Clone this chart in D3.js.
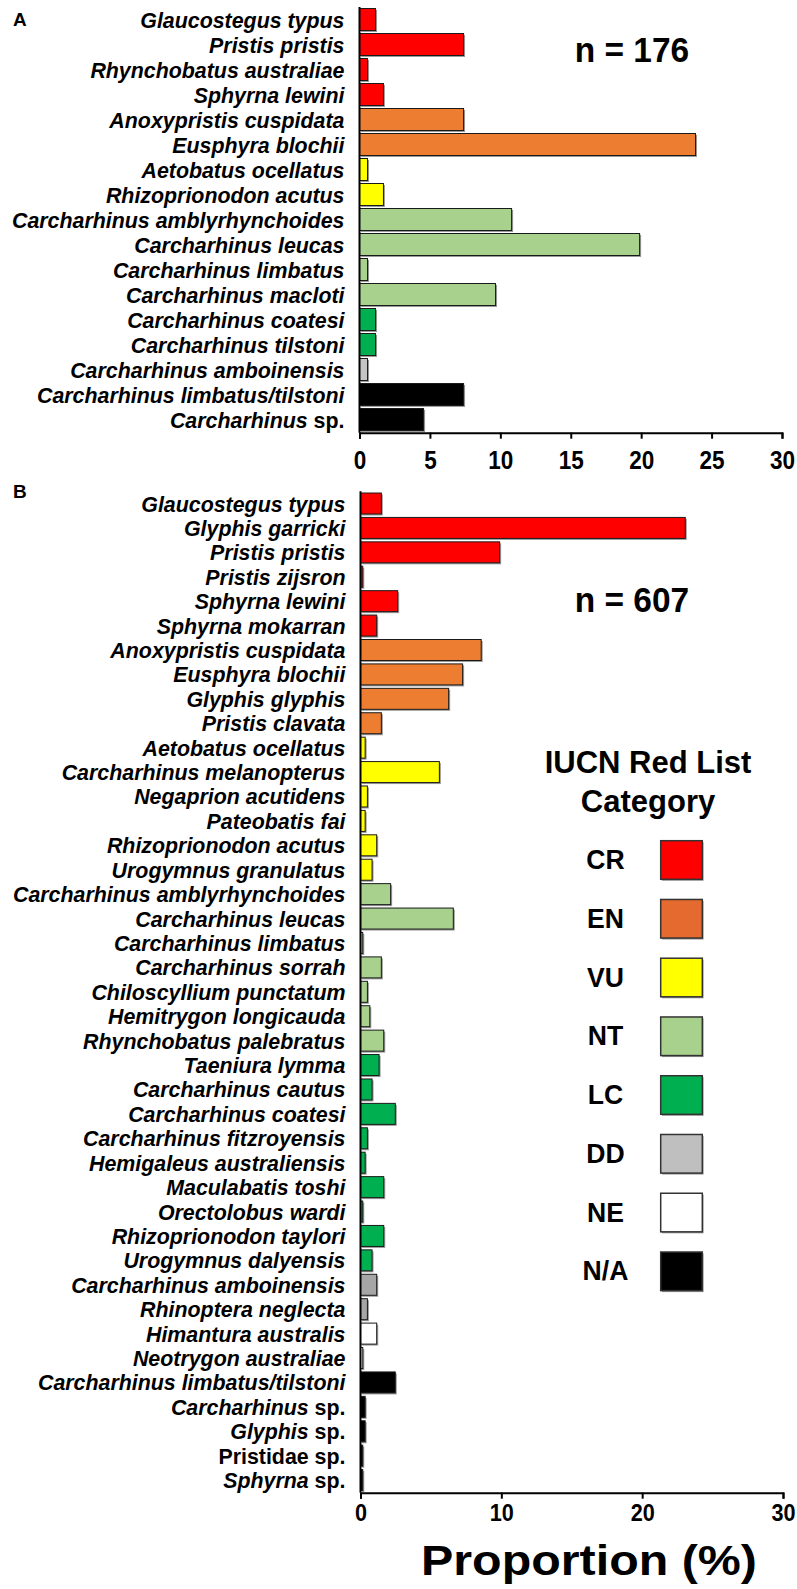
<!DOCTYPE html>
<html>
<head>
<meta charset="utf-8">
<script src="https://cdn.jsdelivr.net/npm/d3@7"></script>
<style>
  body { margin: 0; background: #fff; }
  text { font-family: "Liberation Sans", Arial, sans-serif; font-weight: bold; fill: #000; }
</style>
</head>
<body>
<div id="chart"></div>
<script>
// panel A (n = 176)
var speciesA = ["Glaucostegus typus", "Pristis pristis", "Rhynchobatus australiae", "Sphyrna lewini",
  "Anoxypristis cuspidata", "Eusphyra blochii", "Aetobatus ocellatus", "Rhizoprionodon acutus",
  "Carcharhinus amblyrhynchoides", "Carcharhinus leucas", "Carcharhinus limbatus", "Carcharhinus macloti",
  "Carcharhinus coatesi", "Carcharhinus tilstoni", "Carcharhinus amboinensis",
  "Carcharhinus limbatus/tilstoni", "Carcharhinus sp."];
var valuesA = [1.14, 7.39, 0.57, 1.70, 7.39, 23.86, 0.57, 1.70, 10.80, 19.89, 0.57, 9.66,
  1.14, 1.14, 0.57, 7.39, 4.55];
var categoriesA = ["CR", "CR", "CR", "CR", "EN", "EN", "VU", "VU", "NT", "NT", "NT", "NT",
  "LC", "LC", "DD", "N/A", "N/A"];
var ticksA = [0, 5, 10, 15, 20, 25, 30];

// panel B (n = 607)
var speciesB = ["Glaucostegus typus", "Glyphis garricki", "Pristis pristis", "Pristis zijsron",
  "Sphyrna lewini", "Sphyrna mokarran", "Anoxypristis cuspidata", "Eusphyra blochii", "Glyphis glyphis",
  "Pristis clavata", "Aetobatus ocellatus", "Carcharhinus melanopterus", "Negaprion acutidens",
  "Pateobatis fai", "Rhizoprionodon acutus", "Urogymnus granulatus", "Carcharhinus amblyrhynchoides",
  "Carcharhinus leucas", "Carcharhinus limbatus", "Carcharhinus sorrah", "Chiloscyllium punctatum",
  "Hemitrygon longicauda", "Rhynchobatus palebratus", "Taeniura lymma", "Carcharhinus cautus",
  "Carcharhinus coatesi", "Carcharhinus fitzroyensis", "Hemigaleus australiensis", "Maculabatis toshi",
  "Orectolobus wardi", "Rhizoprionodon taylori", "Urogymnus dalyensis", "Carcharhinus amboinensis",
  "Rhinoptera neglecta", "Himantura australis", "Neotrygon australiae", "Carcharhinus limbatus/tilstoni",
  "Carcharhinus sp.", "Glyphis sp.", "Pristidae sp.", "Sphyrna sp."];
var valuesB = [1.48, 23.06, 9.88, 0.16, 2.64, 1.15, 8.57, 7.25, 6.26, 1.48, 0.33, 5.60, 0.49,
  0.33, 1.15, 0.82, 2.14, 6.59, 0.16, 1.48, 0.49, 0.66, 1.65, 1.32, 0.82, 2.47, 0.49, 0.33,
  1.65, 0.16, 1.65, 0.82, 1.15, 0.49, 1.15, 0.16, 2.47, 0.33, 0.33, 0.16, 0.16];
var categoriesB = ["CR", "CR", "CR", "CR", "CR", "CR", "EN", "EN", "EN", "EN",
  "VU", "VU", "VU", "VU", "VU", "VU", "NT", "NT", "NT", "NT", "NT", "NT", "NT",
  "LC", "LC", "LC", "LC", "LC", "LC", "LC", "LC", "LC", "DD", "DD", "NE", "NE",
  "N/A", "N/A", "N/A", "N/A", "N/A"];
var ticksB = [0, 10, 20, 30];

// legend
var legendCodes = ["CR", "EN", "VU", "NT", "LC", "DD", "NE", "N/A"];
var legendColors = ["#ff0000", "#e46a2f", "#ffff00", "#a9d18e", "#00b050", "#bfbfbf", "#ffffff", "#000000"];

var barColorsA = {"CR": "#ff0000", "EN": "#ed7d31", "VU": "#ffff00", "NT": "#a9d18e",
  "LC": "#00b050", "DD": "#c4c4c4", "NE": "#ffffff", "N/A": "#000000"};
var barColorsB = Object.assign({}, barColorsA, {"DD": "#a6a6a6"});

var W = 797, H = 1589;
var svg = d3.select("#chart").append("svg")
  .attr("width", W).attr("height", H)
  .attr("viewBox", "0 0 " + W + " " + H);

// text is a bit narrower than plain Arial in the original, so squeeze it sideways
function squeeze(sel, x, y, sx) {
  return sel.attr("transform", "translate(" + x + "," + y + ") scale(" + sx + ",1)");
}

function drawPanel(opt) {
  var g = svg.append("g");
  var x = d3.scaleLinear().domain([0, 30]).range([opt.x0, opt.x1]);
  var y = d3.scaleBand().domain(d3.range(opt.species.length))
    .range([opt.top, opt.bottom]).paddingInner(opt.pad).paddingOuter(opt.pad / 2);

  // shadows then bars
  g.selectAll("rect.shadow").data(opt.values).enter().append("rect")
    .attr("class", "shadow")
    .attr("x", x(0) + 1.5)
    .attr("y", function(d, i) { return y(i) + 1.5; })
    .attr("width", function(d) { return x(d) - x(0); })
    .attr("height", y.bandwidth())
    .attr("fill", "#9a9a9a");
  g.selectAll("rect.bar").data(opt.values).enter().append("rect")
    .attr("class", "bar")
    .attr("x", x(0))
    .attr("y", function(d, i) { return y(i); })
    .attr("width", function(d) { return x(d) - x(0); })
    .attr("height", y.bandwidth())
    .attr("fill", function(d, i) { return opt.colors[opt.cats[i]]; })
    .attr("stroke", "#1a1a1a")
    .attr("stroke-width", 1);

  // species labels
  var lab = g.selectAll("text.sp").data(opt.species).enter().append("text")
    .attr("class", "sp")
    .attr("text-anchor", "end")
    .style("font-size", "23px")
    .each(function(d, i) {
      squeeze(d3.select(this), opt.x0 - 15, y(i) + y.bandwidth() / 2 + 8, 0.93);
    });
  lab.each(function(d) {
    var t = d3.select(this);
    if (/ sp\.$/.test(d)) {
      var genus = d.replace(/ sp\.$/, "");
      t.append("tspan").text(genus).style("font-style", /idae$/.test(genus) ? "normal" : "italic");
      t.append("tspan").text(" sp.");
    } else {
      t.append("tspan").text(d).style("font-style", "italic");
    }
  });

  // y axis line
  g.append("line")
    .attr("x1", x(0)).attr("x2", x(0))
    .attr("y1", opt.top).attr("y2", opt.axisY)
    .attr("stroke", "#000").attr("stroke-width", 2);

  // x axis
  var ax = g.append("g")
    .attr("transform", "translate(0," + opt.axisY + ")")
    .call(d3.axisBottom(x).tickValues(opt.ticks).tickSize(6).tickSizeOuter(6).tickPadding(0));
  ax.select(".domain").attr("stroke", "#000").attr("stroke-width", 2);
  ax.selectAll(".tick line").attr("stroke", "#000").attr("stroke-width", 2);
  ax.selectAll(".tick text")
    .attr("y", null).attr("dy", null)
    .style("font-size", opt.tickSize + "px")
    .style("font-family", "'Liberation Sans', Arial, sans-serif")
    .style("font-weight", "bold")
    .each(function() { squeeze(d3.select(this), 0, opt.tickDy, 0.9); });

  squeeze(svg.append("text").style("font-size", "19px").text(opt.letter), 13, opt.letterY, 1);
  squeeze(svg.append("text").attr("text-anchor", "middle")
    .style("font-size", "36px").text(opt.nText), 632, opt.nY, 0.93);
}

drawPanel({species: speciesA, values: valuesA, cats: categoriesA, colors: barColorsA,
  ticks: ticksA, x0: 359.5, x1: 782, top: 7, bottom: 432, pad: 0.12, axisY: 432.7,
  tickDy: 36.5, tickSize: 25, letter: "A", letterY: 26, nText: "n = 176", nY: 62});

drawPanel({species: speciesB, values: valuesB, cats: categoriesB, colors: barColorsB,
  ticks: ticksB, x0: 360.5, x1: 783, top: 491.3, bottom: 1492.3, pad: 0.14, axisY: 1492.7,
  tickDy: 28, tickSize: 24, letter: "B", letterY: 498, nText: "n = 607", nY: 612});

// legend
var leg = svg.append("g");
squeeze(leg.append("text").attr("text-anchor", "middle")
  .style("font-size", "31px").text("IUCN Red List"), 648, 773, 1);
squeeze(leg.append("text").attr("text-anchor", "middle")
  .style("font-size", "31px").text("Category"), 648, 812, 1);

var ly = d3.scalePoint().domain(legendCodes).range([840.7, 1252]);
leg.selectAll("rect.ls").data(legendCodes).enter().append("rect")
  .attr("class", "ls")
  .attr("x", 662).attr("y", function(d) { return ly(d) + 1.5; })
  .attr("width", 41.6).attr("height", 38.6).attr("fill", "#9a9a9a");
leg.selectAll("rect.lb").data(legendCodes).enter().append("rect")
  .attr("class", "lb")
  .attr("x", 660.7).attr("y", function(d) { return ly(d); })
  .attr("width", 41.6).attr("height", 38.6)
  .attr("fill", function(d, i) { return legendColors[i]; })
  .attr("stroke", "#333").attr("stroke-width", 1.5);
leg.selectAll("text.ll").data(legendCodes).enter().append("text")
  .attr("class", "ll")
  .attr("text-anchor", "middle")
  .style("font-size", "28px")
  .text(function(d) { return d; })
  .each(function(d) { squeeze(d3.select(this), 605.5, ly(d) + 19.3 + 9, 0.95); });

// axis title
svg.append("text").attr("x", 589).attr("y", 1575).attr("text-anchor", "middle")
  .attr("textLength", 336).attr("lengthAdjust", "spacingAndGlyphs")
  .style("font-size", "43px").text("Proportion (%)");
</script>
</body>
</html>
